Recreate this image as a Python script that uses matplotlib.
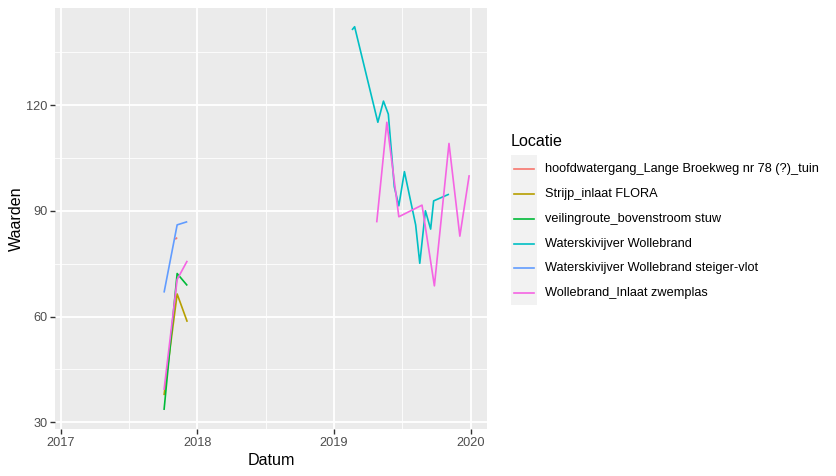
import matplotlib
matplotlib.use("Agg")
import matplotlib.pyplot as plt
import matplotlib.dates as mdates
from matplotlib.lines import Line2D
from matplotlib.patches import Rectangle
import numpy as np
from datetime import datetime

plt.rcParams['font.family'] = ['Liberation Sans', 'DejaVu Sans']

series_names = [
    "hoofdwatergang_Lange Broekweg nr 78 (?)_tuin",
    "Strijp_inlaat FLORA",
    "veilingroute_bovenstroom stuw",
    "Waterskivijver Wollebrand",
    "Waterskivijver Wollebrand steiger-vlot",
    "Wollebrand_Inlaat zwemplas",
]
colors = ["#F8766D", "#B79F00", "#00BA38", "#00BFC4", "#619CFF", "#F564E3"]

hoofd_dates = ["2017-11-03", "2017-11-08"]
hoofd_vals = [81.9, 82.4]

strijp_dates = ["2017-10-04", "2017-11-08", "2017-12-05"]
strijp_vals = [37.7, 66.4, 58.5]

veiling_dates = ["2017-10-04", "2017-11-08", "2017-12-05"]
veiling_vals = [33.5, 72.2, 68.8]

waterski_dates = ["2019-02-18", "2019-02-25", "2019-04-28", "2019-05-13", "2019-05-26",
                  "2019-06-11", "2019-06-23", "2019-07-08", "2019-08-07", "2019-08-18",
                  "2019-09-02", "2019-09-16", "2019-09-24", "2019-11-04"]
waterski_vals = [141.3, 142.2, 115.1, 121.1, 117.4, 96.8, 91.4, 101.1, 86.0, 75.1,
                 90.0, 84.8, 92.8, 94.7]

steiger_dates = ["2017-10-04", "2017-11-08", "2017-12-05"]
steiger_vals = [66.8, 86.0, 86.9]

zwem_dates = ["2017-10-04", "2017-11-08", "2017-12-05", "2018-06-15",
              "2019-04-25", "2019-05-22", "2019-06-23", "2019-08-24", "2019-09-26",
              "2019-11-04", "2019-12-03", "2019-12-28"]
zwem_vals = [39.2, 70.5, 75.8, np.nan,
             86.7, 115.1, 88.3, 91.6, 68.7, 109.1, 82.8, 100.1]

all_dates = [hoofd_dates, strijp_dates, veiling_dates, waterski_dates, steiger_dates, zwem_dates]
all_vals = [hoofd_vals, strijp_vals, veiling_vals, waterski_vals, steiger_vals, zwem_vals]

y_ticks = [30, 60, 90, 120]
x_tick_years = [2017, 2018, 2019, 2020]

W, H = 836, 476
fig = plt.figure(figsize=(W / 100, H / 100), dpi=100)
L, R, T, B = 55.3, 486.7, 8.0, 429.3
ax = fig.add_axes([L / W, 1 - B / H, (R - L) / W, (B - T) / H])
ax.set_facecolor("#EBEBEB")
for s in ax.spines.values():
    s.set_visible(False)

def dnum(s):
    return mdates.date2num(datetime.strptime(s, "%Y-%m-%d"))

for d, v, c in zip(all_dates, all_vals, colors):
    ax.plot([dnum(x) for x in d], v, color=c, lw=1.2, solid_capstyle='butt', zorder=3)

# limits
x0 = mdates.date2num(datetime(2017, 1, 1))
x1 = mdates.date2num(datetime(2020, 1, 1))
ppy = (x1 - x0) / (470.7 - 60.7)
ax.set_xlim(x0 - (60.7 - L) * ppy, x1 + (R - 470.7) * ppy)
ppv = 90 / (422.3 - 105.0)
ax.set_ylim(30 - (B - 422.3) * ppv, 30 + (422.3 - T) * ppv)

ax.set_xticks([mdates.date2num(datetime(y, 1, 1)) for y in x_tick_years])
ax.set_xticklabels([str(y) for y in x_tick_years])
ax.set_xticks([mdates.date2num(datetime(y, 7, 2)) for y in [2017, 2018, 2019]], minor=True)
ax.set_yticks(y_ticks)
ax.set_yticklabels([str(v) for v in y_ticks])
ax.set_yticks([45, 75, 105, 135], minor=True)

ax.grid(which='major', color='white', lw=1.3)
ax.grid(which='minor', color='white', lw=0.6)
ax.set_axisbelow(True)
ax.tick_params(which='major', length=3.5, width=1.0, color='#333333',
               labelsize=9.2, labelcolor='#4D4D4D', pad=2)
ax.tick_params(which='minor', length=0)

ax.set_xlabel("Datum", fontsize=11.6, color='black', labelpad=3)
ax.set_ylabel("Waarden", fontsize=11.6, color='black', labelpad=2)

# legend
fig.text(511 / W, 1 - 142 / H, "Locatie", fontsize=11.6, ha='left', va='center')
row_y = [169.3, 194.0, 219.0, 244.0, 268.3, 293.3]
fig.patches.append(Rectangle((511 / W, 1 - 305 / H), 25.7 / W, 150 / H,
                             transform=fig.transFigure, facecolor='#F2F2F2',
                             edgecolor='none'))
for yy, name, c in zip(row_y, series_names, colors):
    fig.lines.append(Line2D([513.5 / W, 534 / W], [1 - yy / H, 1 - yy / H],
                            transform=fig.transFigure, color=c, lw=1.2))
    fig.text(545 / W, 1 - yy / H, name, fontsize=9.2, ha='left', va='center')

fig.savefig("out.png", dpi=100, facecolor='white')
